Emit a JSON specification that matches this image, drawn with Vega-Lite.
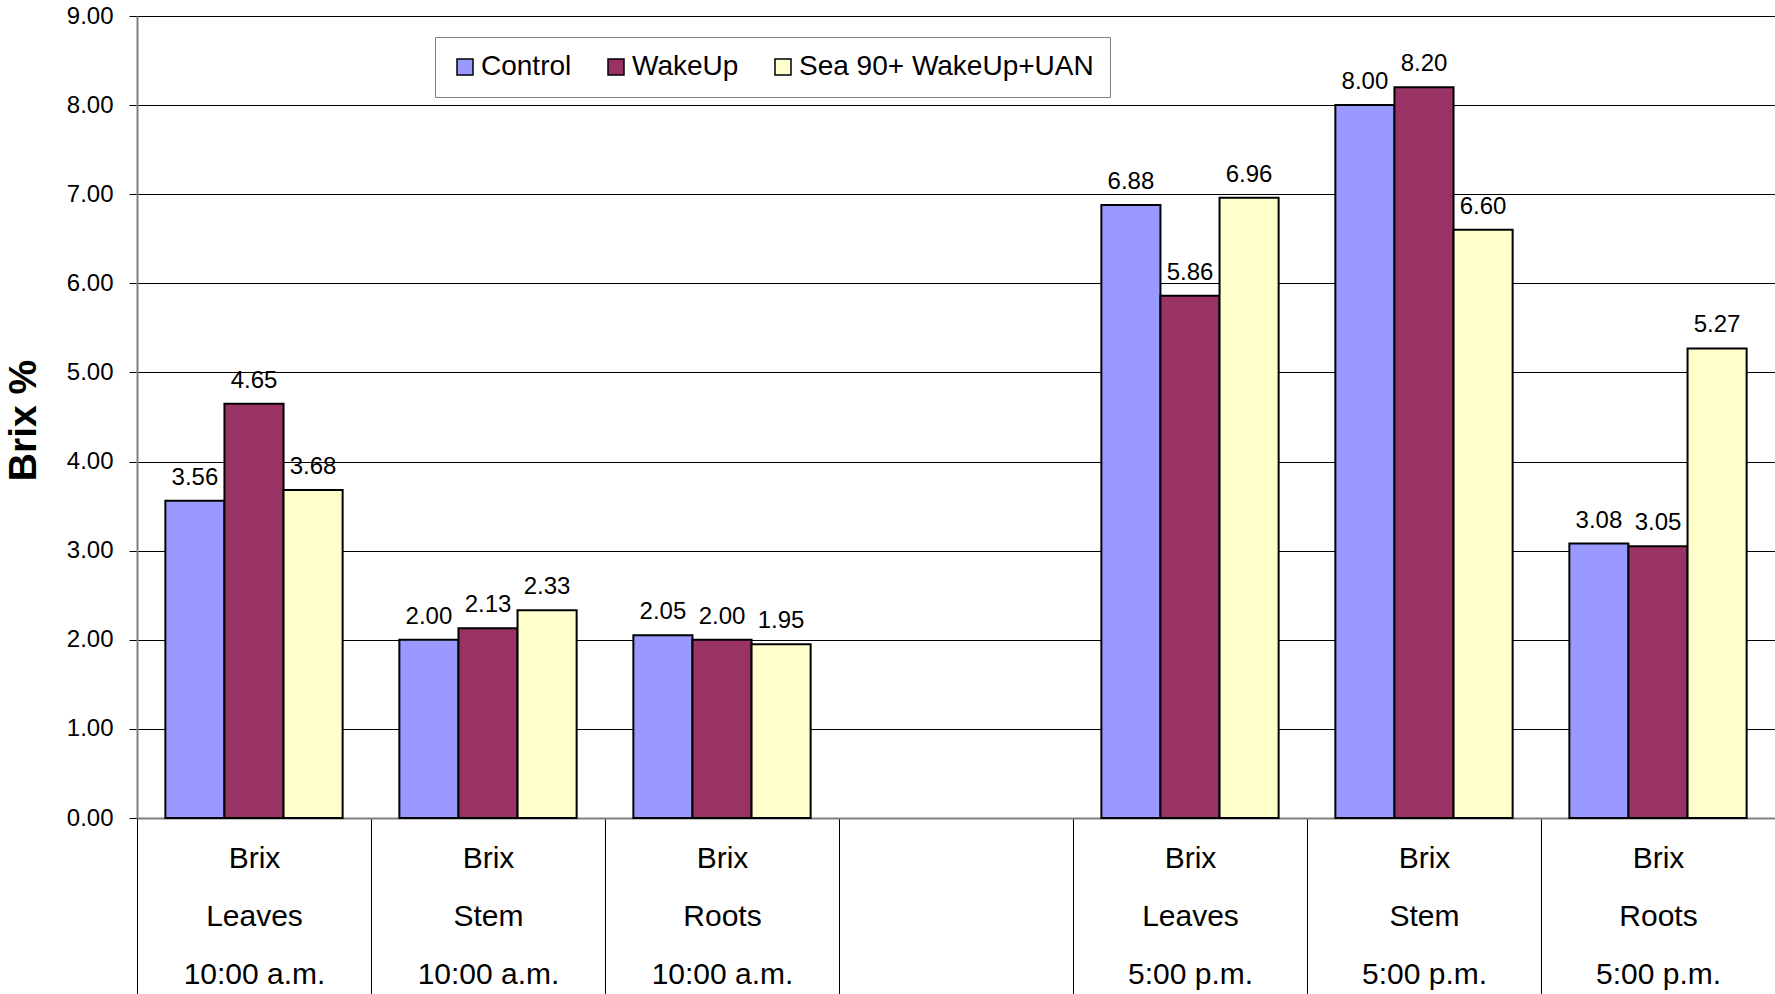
{
  "$schema": "https://vega.github.io/schema/vega-lite/v6.json",
  "autosize": {"type": "none"},
  "padding": {"left": 137, "top": 16, "right": 0, "bottom": 177},
  "width": 1638,
  "height": 802,
  "config": {"font": "Liberation Sans", "view": {"stroke": null}, "background": "white"},
  "data": {
    "values": [
      {"cat": "Brix|Leaves|10:00 a.m.", "series": "Control", "value": 3.56},
      {"cat": "Brix|Leaves|10:00 a.m.", "series": "WakeUp", "value": 4.65},
      {"cat": "Brix|Leaves|10:00 a.m.", "series": "Sea 90+ WakeUp+UAN", "value": 3.68},
      {"cat": "Brix|Stem|10:00 a.m.", "series": "Control", "value": 2.00},
      {"cat": "Brix|Stem|10:00 a.m.", "series": "WakeUp", "value": 2.13},
      {"cat": "Brix|Stem|10:00 a.m.", "series": "Sea 90+ WakeUp+UAN", "value": 2.33},
      {"cat": "Brix|Roots|10:00 a.m.", "series": "Control", "value": 2.05},
      {"cat": "Brix|Roots|10:00 a.m.", "series": "WakeUp", "value": 2.00},
      {"cat": "Brix|Roots|10:00 a.m.", "series": "Sea 90+ WakeUp+UAN", "value": 1.95},
      {"cat": "Brix|Leaves|5:00 p.m.", "series": "Control", "value": 6.88},
      {"cat": "Brix|Leaves|5:00 p.m.", "series": "WakeUp", "value": 5.86},
      {"cat": "Brix|Leaves|5:00 p.m.", "series": "Sea 90+ WakeUp+UAN", "value": 6.96},
      {"cat": "Brix|Stem|5:00 p.m.", "series": "Control", "value": 8.00},
      {"cat": "Brix|Stem|5:00 p.m.", "series": "WakeUp", "value": 8.20},
      {"cat": "Brix|Stem|5:00 p.m.", "series": "Sea 90+ WakeUp+UAN", "value": 6.60},
      {"cat": "Brix|Roots|5:00 p.m.", "series": "Control", "value": 3.08},
      {"cat": "Brix|Roots|5:00 p.m.", "series": "WakeUp", "value": 3.05},
      {"cat": "Brix|Roots|5:00 p.m.", "series": "Sea 90+ WakeUp+UAN", "value": 5.27}
    ]
  },
  "encoding": {
    "x": {
      "field": "cat",
      "type": "nominal",
      "sort": null,
      "scale": {
        "domain": ["Brix|Leaves|10:00 a.m.", "Brix|Stem|10:00 a.m.", "Brix|Roots|10:00 a.m.", "gap", "Brix|Leaves|5:00 p.m.", "Brix|Stem|5:00 p.m.", "Brix|Roots|5:00 p.m."],
        "paddingInner": 0,
        "paddingOuter": 0
      },
      "axis": {
        "title": null,
        "labelAngle": 0,
        "labelExpr": "datum.label == 'gap' ? '' : split(datum.label, '|')",
        "labelFontSize": 30,
        "labelLineHeight": 58,
        "labelBaseline": "alphabetic",
        "labelPadding": -128,
        "labelColor": "#000000",
        "tickBand": "extent",
        "tickSize": 177,
        "tickColor": "#000000",
        "tickWidth": 1,
        "domainColor": "#808080",
        "domainWidth": 2,
        "grid": false
      }
    },
    "xOffset": {
      "field": "series",
      "type": "nominal",
      "sort": null,
      "scale": {"domain": ["Control", "WakeUp", "Sea 90+ WakeUp+UAN"], "paddingInner": 0, "paddingOuter": 0.48}
    },
    "y": {
      "field": "value",
      "type": "quantitative",
      "scale": {"domain": [0, 9], "nice": false, "zero": true},
      "axis": {
        "values": [0, 1, 2, 3, 4, 5, 6, 7, 8, 9],
        "format": ".2f",
        "grid": true,
        "gridColor": "#000000",
        "gridWidth": 1,
        "domainColor": "#808080",
        "domainWidth": 2,
        "tickColor": "#000000",
        "tickSize": 8,
        "labelFontSize": 24,
        "labelPadding": 16,
        "labelColor": "#000000",
        "title": "Brix %",
        "titleFontSize": 39,
        "titleFontWeight": "bold",
        "titleColor": "#000000",
        "titleAngle": 270,
        "titleX": -114,
        "titleY": 404,
        "titleAlign": "center",
        "titleBaseline": "middle"
      }
    }
  },
  "layer": [
    {
      "mark": {"type": "bar", "stroke": "#000000", "strokeWidth": 2},
      "encoding": {
        "color": {
          "field": "series",
          "type": "nominal",
          "sort": null,
          "scale": {"domain": ["Control", "WakeUp", "Sea 90+ WakeUp+UAN"], "range": ["#9999FF", "#993366", "#FFFFCC"]},
          "legend": {
            "title": null,
            "orient": "none",
            "direction": "horizontal",
            "legendX": 298,
            "legendY": 21,
            "symbolType": "square",
            "symbolSize": 256,
            "symbolStrokeColor": "#000000",
            "symbolStrokeWidth": 1.5,
            "symbolOpacity": 1,
            "labelFontSize": 28,
            "labelLimit": 1000,
            "labelColor": "#000000",
            "labelOffset": 2,
            "columnPadding": 30,
            "padding": 16,
            "strokeColor": "#808080",
            "fillColor": "#FFFFFF"
          }
        }
      }
    },
    {
      "mark": {"type": "text", "baseline": "alphabetic", "dy": -16, "fontSize": 24, "color": "#000000"},
      "encoding": {
        "text": {"field": "value", "type": "quantitative", "format": ".2f"}
      }
    }
  ]
}
